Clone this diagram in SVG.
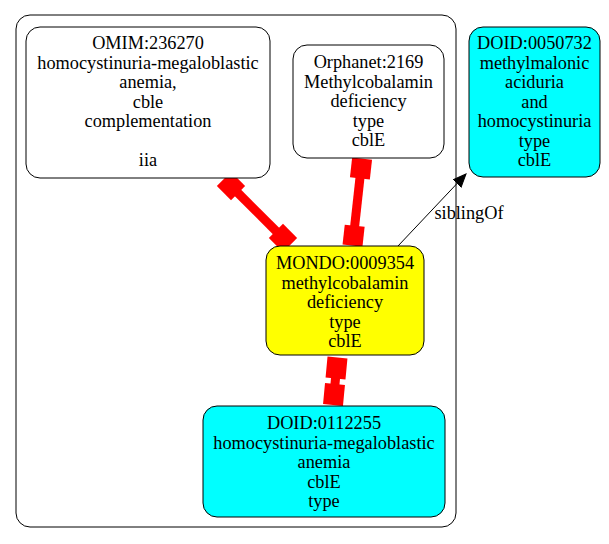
<svg xmlns="http://www.w3.org/2000/svg" width="609" height="544" viewBox="0 0 609 544">
  <style>
    .node { stroke: #000; stroke-width: 1; }
    .plain { fill: #fff; }
    .cyan { fill: #00ffff; }
    .yellow { fill: #ffff00; }
    .label { font-family: "Liberation Serif", "Times New Roman", serif; font-size: 18.3px; fill: #000; text-anchor: middle; }
    .thick { stroke: #ff0000; stroke-width: 9; fill: none; }
    .box { fill: #ff0000; stroke: none; }
  </style>
  <defs>
    <marker id="arrow" markerUnits="userSpaceOnUse" markerWidth="14" markerHeight="12" refX="13" refY="5.5" orient="auto">
      <path d="M0,0 L13,5.5 L0,11 Z" fill="#000" stroke="#000" stroke-width="1"/>
    </marker>
  </defs>

  <rect width="609" height="544" fill="#fff"/>

  <!-- cluster -->
  <rect x="16" y="15" width="440" height="512" rx="14" ry="14" fill="none" stroke="#000" stroke-width="1"/>

  <g id="connectors">
    <!-- OMIM:236270 to MONDO:0009354 -->
    <g id="e-omim">
      <line class="thick" x1="231" y1="186" x2="283" y2="238"/>
      <rect class="box" x="221" y="176" width="20" height="20" transform="rotate(45 231 186)"/>
      <rect class="box" x="273" y="228" width="20" height="20" transform="rotate(45 283 238)"/>
    </g>
    <!-- Orphanet:2169 to MONDO:0009354 -->
    <g id="e-orphanet">
      <line class="thick" x1="361" y1="168.5" x2="353.6" y2="235.7"/>
      <rect class="box" x="351" y="158.5" width="20" height="20" transform="rotate(6.3 361 168.5)"/>
      <rect class="box" x="343.6" y="225.7" width="20" height="20" transform="rotate(6.3 353.6 235.7)"/>
    </g>
    <!-- MONDO:0009354 to DOID:0112255 -->
    <g id="e-doid0112255">
      <line class="thick" x1="336.5" y1="368" x2="334" y2="394.5"/>
      <rect class="box" x="326.5" y="357.5" width="20" height="21" transform="rotate(5.4 336.5 368)"/>
      <rect class="box" x="324" y="384" width="20" height="21" transform="rotate(5.4 334 394.5)"/>
    </g>
    <!-- siblingOf -->
    <g id="e-sibling">
      <line x1="398" y1="246" x2="466" y2="174" stroke="#000" stroke-width="1" marker-end="url(#arrow)"/>
      <text class="label" x="469" y="219">siblingOf</text>
    </g>
  </g>

  <g id="OMIM_236270">
    <rect class="node plain" x="26" y="27" width="244" height="151" rx="14" ry="14"/>
    <text class="label" x="148" y="49">OMIM:236270</text>
    <text class="label" x="148" y="68.5">homocystinuria-megaloblastic</text>
    <text class="label" x="148" y="88">anemia,</text>
    <text class="label" x="148" y="107.5">cble</text>
    <text class="label" x="148" y="127">complementation</text>
    <text class="label" x="148" y="166">iia</text>
  </g>

  <g id="Orphanet_2169">
    <rect class="node plain" x="293" y="45" width="151" height="113" rx="14" ry="14"/>
    <text class="label" x="368.5" y="68">Orphanet:2169</text>
    <text class="label" x="368.5" y="87.5">Methylcobalamin</text>
    <text class="label" x="368.5" y="107">deficiency</text>
    <text class="label" x="368.5" y="126.5">type</text>
    <text class="label" x="368.5" y="146">cblE</text>
  </g>

  <g id="DOID_0050732">
    <rect class="node cyan" x="469" y="27" width="131" height="150" rx="14" ry="14"/>
    <text class="label" x="534.5" y="49">DOID:0050732</text>
    <text class="label" x="534.5" y="68.5">methylmalonic</text>
    <text class="label" x="534.5" y="88">aciduria</text>
    <text class="label" x="534.5" y="107.5">and</text>
    <text class="label" x="534.5" y="127">homocystinuria</text>
    <text class="label" x="534.5" y="146.5">type</text>
    <text class="label" x="534.5" y="166">cblE</text>
  </g>

  <g id="MONDO_0009354">
    <rect class="node yellow" x="266" y="246" width="158" height="109" rx="14" ry="14"/>
    <text class="label" x="345" y="269">MONDO:0009354</text>
    <text class="label" x="345" y="288.5">methylcobalamin</text>
    <text class="label" x="345" y="308">deficiency</text>
    <text class="label" x="345" y="327.5">type</text>
    <text class="label" x="345" y="347">cblE</text>
  </g>

  <g id="DOID_0112255">
    <rect class="node cyan" x="203" y="406" width="242" height="111" rx="14" ry="14"/>
    <text class="label" x="324" y="429">DOID:0112255</text>
    <text class="label" x="324" y="448.5">homocystinuria-megaloblastic</text>
    <text class="label" x="324" y="468">anemia</text>
    <text class="label" x="324" y="487.5">cblE</text>
    <text class="label" x="324" y="507">type</text>
  </g>
</svg>
